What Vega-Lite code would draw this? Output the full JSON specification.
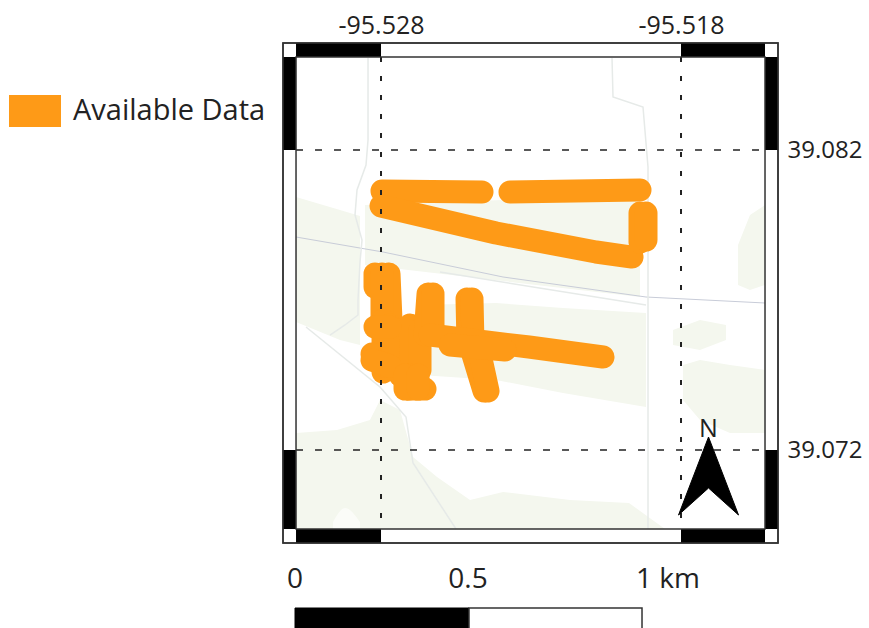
{"$schema":"https://vega.github.io/schema/vega-lite/v6.json","width":495,"height":500,"autosize":{"type":"none"},"padding":{"left":283,"top":43,"right":91,"bottom":85},"background":"white","config":{"view":{"stroke":null},"font":"Open Sans"},
"encoding":{"x":{"field":"lon","type":"quantitative","scale":{"domain":[-95.531267,-95.514767],"nice":false,"zero":false},"axis":{"orient":"top","values":[-95.528,-95.518],"format":".3f","labelExpr":"replace(datum.label,'−','-')","title":null,"grid":false,"ticks":false,"domain":false,"labelFont":"Open Sans","labelFontSize":25,"labelColor":"#222","labelPadding":5}},"y":{"field":"lat","type":"quantitative","scale":{"domain":[39.0689,39.085567],"nice":false,"zero":false},"axis":{"orient":"right","values":[39.082,39.072],"format":".3f","title":null,"grid":false,"ticks":false,"domain":false,"labelFont":"Open Sans","labelFontSize":24,"labelColor":"#222","labelPadding":9}}},
"layer":[
{"data":{"values":[{"lon":-95.531267,"lon2":-95.514767,"lat":39.085567,"lat2":39.0689}]},"mark":{"type":"rect","fill":"white","stroke":"#333","strokeWidth":1.5},"encoding":{"x2":{"field":"lon2"},"y2":{"field":"lat2"}}},
{"data":{"values":[
{"id":"A","lon":-95.530833,"lat":39.080433,"lat2":39.076267},{"id":"A","lon":-95.529367,"lat":39.08,"lat2":39.075667},{"id":"A","lon":-95.5287,"lat":39.0798,"lat2":39.0755},
{"id":"B","lon":-95.528533,"lat":39.080167,"lat2":39.078167},{"id":"B","lon":-95.519367,"lat":39.0805,"lat2":39.0771},
{"id":"C","lon":-95.5267,"lat":39.076833,"lat2":39.0745},{"id":"C","lon":-95.524167,"lat":39.0769,"lat2":39.074333},{"id":"C","lon":-95.521933,"lat":39.076733,"lat2":39.0739},{"id":"C","lon":-95.519167,"lat":39.076567,"lat2":39.073433},
{"id":"D1","lon":-95.5161,"lat":39.078833,"lat2":39.0775},{"id":"D1","lon":-95.5157,"lat":39.079833,"lat2":39.077333},{"id":"D1","lon":-95.5152,"lat":39.080167,"lat2":39.0775},
{"id":"D2","lon":-95.518267,"lat":39.076,"lat2":39.0755},{"id":"D2","lon":-95.517367,"lat":39.076333,"lat2":39.075333},{"id":"D2","lon":-95.5165,"lat":39.076167,"lat2":39.075667},
{"id":"D3","lon":-95.517933,"lat":39.074833,"lat2":39.073667},{"id":"D3","lon":-95.517367,"lat":39.075,"lat2":39.073},{"id":"D3","lon":-95.516367,"lat":39.074833,"lat2":39.072567},{"id":"D3","lon":-95.5152,"lat":39.074667,"lat2":39.072567},
{"id":"E","lon":-95.530833,"lat":39.072567,"lat2":39.069367},{"id":"E","lon":-95.529467,"lat":39.072667,"lat2":39.069367},{"id":"E","lon":-95.528367,"lat":39.073,"lat2":39.069367},{"id":"E","lon":-95.528033,"lat":39.073667,"lat2":39.069367},{"id":"E","lon":-95.527367,"lat":39.073333,"lat2":39.069367},{"id":"E","lon":-95.526933,"lat":39.071767,"lat2":39.069367},{"id":"E","lon":-95.526133,"lat":39.0711,"lat2":39.069367},{"id":"E","lon":-95.525033,"lat":39.070333,"lat2":39.069367},{"id":"E","lon":-95.523933,"lat":39.0706,"lat2":39.069367},{"id":"E","lon":-95.5217,"lat":39.070333,"lat2":39.069367},{"id":"E","lon":-95.519733,"lat":39.070233,"lat2":39.069367},{"id":"E","lon":-95.518533,"lat":39.069367,"lat2":39.069367}
]},"mark":{"type":"area","color":"#f4f7ee","opacity":1},"encoding":{"y2":{"field":"lat2"},"detail":{"field":"id"}}},
{"data":{"values":[{"lon":-95.5296,"lat":39.0696,"lat2":39.069367},{"lon":-95.5292,"lat":39.070067,"lat2":39.069367},{"lon":-95.5287,"lat":39.0696,"lat2":39.069367}]},"mark":{"type":"area","color":"#fbfcf8","interpolate":"monotone"},"encoding":{"y2":{"field":"lat2"}}},
{"data":{"values":[
{"id":"road1","lon":-95.530833,"lat":39.0791},{"id":"road1","lon":-95.527933,"lat":39.0786},{"id":"road1","lon":-95.523933,"lat":39.077767},{"id":"road1","lon":-95.519167,"lat":39.0771},{"id":"road1","lon":-95.5152,"lat":39.0769}
]},"mark":{"type":"line","color":"#c8ccd8","strokeWidth":1},"encoding":{"detail":{"field":"id"},"order":{"value":null}}},
{"data":{"values":[
{"id":"road2","lon":-95.526033,"lat":39.077933},{"id":"road2","lon":-95.519167,"lat":39.076833},
{"id":"stream","lon":-95.528433,"lat":39.085067},{"id":"stream","lon":-95.528433,"lat":39.082333},{"id":"stream","lon":-95.5285,"lat":39.0815},{"id":"stream","lon":-95.5288,"lat":39.080667},{"id":"stream","lon":-95.528867,"lat":39.079833},{"id":"stream","lon":-95.528633,"lat":39.079},{"id":"stream","lon":-95.5287,"lat":39.078267},{"id":"stream","lon":-95.528767,"lat":39.077},{"id":"stream","lon":-95.528767,"lat":39.0765},{"id":"stream","lon":-95.5292,"lat":39.076167},{"id":"stream","lon":-95.5297,"lat":39.075833},
{"id":"creek","lon":-95.5305,"lat":39.0761},{"id":"creek","lon":-95.528033,"lat":39.0741},{"id":"creek","lon":-95.527167,"lat":39.0731},{"id":"creek","lon":-95.526933,"lat":39.071567},{"id":"creek","lon":-95.5255,"lat":39.069367},
{"id":"east","lon":-95.5203,"lat":39.085067},{"id":"east","lon":-95.520267,"lat":39.083767},{"id":"east","lon":-95.519267,"lat":39.083433},{"id":"east","lon":-95.5191,"lat":39.081433},{"id":"east","lon":-95.5191,"lat":39.069367}
]},"mark":{"type":"line","color":"#e6eae8","strokeWidth":1.5},"encoding":{"detail":{"field":"id"},"order":{"value":null}}},
{"data":{"values":[
{"s":"Available Data","id":"t1","lon":-95.527967,"lat":39.080633},{"s":"Available Data","id":"t1","lon":-95.524633,"lat":39.0806},
{"s":"Available Data","id":"t2","lon":-95.5237,"lat":39.0806},{"s":"Available Data","id":"t2","lon":-95.519367,"lat":39.080667},
{"s":"Available Data","id":"t3","lon":-95.528,"lat":39.080133},{"s":"Available Data","id":"t3","lon":-95.524167,"lat":39.079233},{"s":"Available Data","id":"t3","lon":-95.520833,"lat":39.0786},{"s":"Available Data","id":"t3","lon":-95.519633,"lat":39.078433},
{"s":"Available Data","id":"t4","lon":-95.519367,"lat":39.0799},{"s":"Available Data","id":"t4","lon":-95.519367,"lat":39.078933},
{"s":"Available Data","id":"t5","lon":-95.519167,"lat":39.0799},{"s":"Available Data","id":"t5","lon":-95.519167,"lat":39.079},
{"s":"Available Data","id":"a1","lon":-95.5282,"lat":39.077867},{"s":"Available Data","id":"a1","lon":-95.5282,"lat":39.077433},
{"s":"Available Data","id":"a2","lon":-95.527733,"lat":39.077867},{"s":"Available Data","id":"a2","lon":-95.527667,"lat":39.076333},
{"s":"Available Data","id":"a3","lon":-95.527967,"lat":39.077867},{"s":"Available Data","id":"a3","lon":-95.527967,"lat":39.076333},
{"s":"Available Data","id":"b0","lon":-95.527933,"lat":39.076333},{"s":"Available Data","id":"b0","lon":-95.527933,"lat":39.0746},
{"s":"Available Data","id":"b1","lon":-95.5277,"lat":39.076167},{"s":"Available Data","id":"b1","lon":-95.527533,"lat":39.074667},
{"s":"Available Data","id":"b4","lon":-95.527367,"lat":39.076},{"s":"Available Data","id":"b4","lon":-95.527367,"lat":39.0745},
{"s":"Available Data","id":"b2","lon":-95.527033,"lat":39.076167},{"s":"Available Data","id":"b2","lon":-95.526967,"lat":39.074333},
{"s":"Available Data","id":"b3","lon":-95.5267,"lat":39.076},{"s":"Available Data","id":"b3","lon":-95.5267,"lat":39.074667},
{"s":"Available Data","id":"c","lon":-95.5282,"lat":39.0761},{"s":"Available Data","id":"c","lon":-95.5277,"lat":39.0761},
{"s":"Available Data","id":"d","lon":-95.5283,"lat":39.0752},{"s":"Available Data","id":"d","lon":-95.527867,"lat":39.0748},
{"s":"Available Data","id":"d2","lon":-95.5283,"lat":39.075},{"s":"Available Data","id":"d2","lon":-95.5277,"lat":39.0748},
{"s":"Available Data","id":"e","lon":-95.527067,"lat":39.074033},{"s":"Available Data","id":"e","lon":-95.526533,"lat":39.074033},
{"s":"Available Data","id":"e2","lon":-95.527033,"lat":39.0745},{"s":"Available Data","id":"e2","lon":-95.527067,"lat":39.074033},
{"s":"Available Data","id":"e3","lon":-95.5272,"lat":39.0745},{"s":"Available Data","id":"e3","lon":-95.5272,"lat":39.074033},
{"s":"Available Data","id":"e4","lon":-95.526767,"lat":39.0745},{"s":"Available Data","id":"e4","lon":-95.526767,"lat":39.074033},
{"s":"Available Data","id":"f1","lon":-95.526433,"lat":39.0772},{"s":"Available Data","id":"f1","lon":-95.526533,"lat":39.075833},
{"s":"Available Data","id":"f2","lon":-95.526267,"lat":39.0772},{"s":"Available Data","id":"f2","lon":-95.526267,"lat":39.076},
{"s":"Available Data","id":"g1","lon":-95.525133,"lat":39.077033},{"s":"Available Data","id":"g1","lon":-95.5251,"lat":39.0755},
{"s":"Available Data","id":"g2","lon":-95.524967,"lat":39.077033},{"s":"Available Data","id":"g2","lon":-95.524933,"lat":39.0755},
{"s":"Available Data","id":"h1","lon":-95.525033,"lat":39.0755},{"s":"Available Data","id":"h1","lon":-95.524567,"lat":39.073967},
{"s":"Available Data","id":"h2","lon":-95.524767,"lat":39.0755},{"s":"Available Data","id":"h2","lon":-95.524433,"lat":39.073967},
{"s":"Available Data","id":"i","lon":-95.526367,"lat":39.075833},{"s":"Available Data","id":"i","lon":-95.523067,"lat":39.075433},{"s":"Available Data","id":"i","lon":-95.5206,"lat":39.0751},
{"s":"Available Data","id":"j","lon":-95.5257,"lat":39.0755},{"s":"Available Data","id":"j","lon":-95.523867,"lat":39.075333}
]},"mark":{"type":"line","strokeWidth":23,"strokeCap":"round","strokeJoin":"round"},"encoding":{"detail":{"field":"id"},"order":{"value":null},"color":{"field":"s","type":"nominal","scale":{"domain":["Available Data"],"range":["#fe9a17"]},"legend":{"title":null,"orient":"none","legendX":-274,"legendY":42,"symbolType":"M-1,-0.615H1V0.615H-1Z","symbolSize":2704,"symbolStrokeWidth":0,"symbolFillColor":"#fe9a17","labelFont":"Open Sans","labelFontSize":29,"labelColor":"#222","labelOffset":12,"labelLimit":300}}}},
{"data":{"values":[{"lon":-95.528,"lat":39.0851,"lat2":39.069367},{"lon":-95.518,"lat":39.0851,"lat2":39.069367}]},"mark":{"type":"rule","color":"#222","strokeWidth":2,"strokeDash":[5,14]},"encoding":{"y2":{"field":"lat2"}}},
{"data":{"values":[{"lon":-95.530833,"lon2":-95.5152,"lat":39.082},{"lon":-95.530833,"lon2":-95.5152,"lat":39.072}]},"mark":{"type":"rule","color":"#222","strokeWidth":1.5,"strokeDash":[7,12]},"encoding":{"x2":{"field":"lon2"}}},
{"data":{"values":[
{"lon":-95.530833,"lon2":-95.528,"lat":39.085567,"lat2":39.0851},{"lon":-95.518,"lon2":-95.5152,"lat":39.085567,"lat2":39.0851},
{"lon":-95.530833,"lon2":-95.528,"lat":39.069367,"lat2":39.0689},{"lon":-95.518,"lon2":-95.5152,"lat":39.069367,"lat2":39.0689},
{"lon":-95.531267,"lon2":-95.530833,"lat":39.0851,"lat2":39.082},{"lon":-95.531267,"lon2":-95.530833,"lat":39.072,"lat2":39.069367},
{"lon":-95.5152,"lon2":-95.514767,"lat":39.0851,"lat2":39.082},{"lon":-95.5152,"lon2":-95.514767,"lat":39.072,"lat2":39.069367}
]},"mark":{"type":"rect","fill":"black"},"encoding":{"x2":{"field":"lon2"},"y2":{"field":"lat2"}}},
{"data":{"values":[{"lon":-95.530833,"lon2":-95.5152,"lat":39.0851,"lat2":39.069367},{"lon":-95.531267,"lon2":-95.514767,"lat":39.085567,"lat2":39.0689}]},"mark":{"type":"rect","fill":null,"stroke":"#333","strokeWidth":1.5},"encoding":{"x2":{"field":"lon2"},"y2":{"field":"lat2"}}},
{"data":{"values":[{"lon":-95.517083,"lat":39.071133}]},"mark":{"type":"point","shape":"M0,-1.3L1,1.3L0,0.4L-1,1.3Z","size":3600,"filled":true,"fill":"black","stroke":"black","strokeWidth":1,"opacity":1}},
{"data":{"values":[{"lon":-95.517083,"lat":39.072433,"label":"N"}]},"mark":{"type":"text","font":"Open Sans","fontSize":25,"color":"#222","align":"center","baseline":"alphabetic"},"encoding":{"text":{"field":"label"}}},
{"data":{"values":[{"lon":-95.530867,"lon2":-95.525067,"lat":39.066733,"lat2":39.065667}]},"mark":{"type":"rect","fill":"black","stroke":"black","strokeWidth":1},"encoding":{"x2":{"field":"lon2"},"y2":{"field":"lat2"}}},
{"data":{"values":[{"lon":-95.525067,"lon2":-95.5193,"lat":39.066733,"lat2":39.065667}]},"mark":{"type":"rect","fill":"white","stroke":"#333","strokeWidth":1.5},"encoding":{"x2":{"field":"lon2"},"y2":{"field":"lat2"}}},
{"data":{"values":[{"lon":-95.530867,"lat":39.0674,"label":"0"},{"lon":-95.5251,"lat":39.0674,"label":"0.5"},{"lon":-95.518433,"lat":39.0674,"label":"1 km"}]},"mark":{"type":"text","font":"Open Sans","fontSize":28,"color":"#222","align":"center","baseline":"alphabetic"},"encoding":{"text":{"field":"label"}}}
]}
